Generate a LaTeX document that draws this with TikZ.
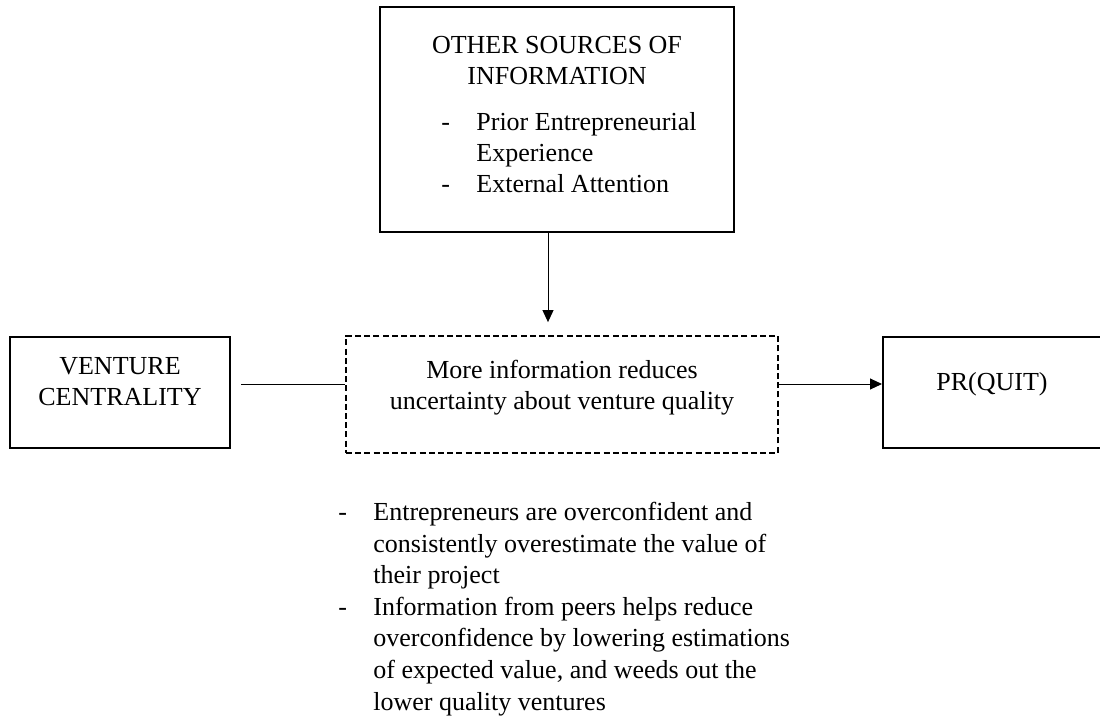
\documentclass[tikz,border=0pt]{standalone}
\usepackage{fontspec}
\setmainfont{Liberation Serif}
\usetikzlibrary{arrows.meta,positioning}
% extra depth under the last line, so the text sits a little above the box centre
\newcommand\lowerpad[1]{\rule[-#1]{0pt}{#1}}

\begin{document}
\begin{tikzpicture}[x=0.5pt,y=-0.5pt,>={Triangle[length=6pt,width=5.5pt]},
        font=\fontsize{13}{15.5}\selectfont,
        box/.style={draw,line width=1pt,inner sep=0pt,align=center},
        hyp/.style={draw,line width=0.9pt,dash pattern=on 3pt off 1.6pt,
                    inner sep=0pt,align=center},
        link/.style={line width=0.5pt}]
        \useasboundingbox (0,0) rectangle (1100,723);
        \node[box,minimum width=177pt,minimum height=112.5pt] (src) at (557,119.5)
            {OTHER SOURCES OF\\INFORMATION\\[7.5pt]
             \hspace*{12pt}\begin{tabular}[t]{@{}p{17.5pt}@{}l@{}}
               -&Prior Entrepreneurial\\&Experience\\-&External Attention\end{tabular}};
        \node[box,minimum width=110pt,minimum height=55.5pt] (vc) at (120,392.5)
            {VENTURE\\CENTRALITY\lowerpad{11pt}};
        \node[hyp,minimum width=216pt,minimum height=58.5pt] (info) at (562,394.5)
            {More information reduces\\uncertainty about venture quality\lowerpad{9.5pt}};
        \node[box,minimum width=109pt,minimum height=55.5pt] (quit) at (992,392.5)
            {PR(QUIT)\lowerpad{11pt}};
        \node[anchor=north west,inner sep=0pt,font=\fontsize{13}{15.8}\selectfont] (notes) at (338,498)
            {\begin{tabular}{@{}p{17.5pt}@{}l@{}}
               -&Entrepreneurs are overconfident and\\
                &consistently overestimate the value of\\
                &their project\\
               -&Information from peers helps reduce\\
                &overconfidence by lowering estimations\\
                &of expected value, and weeds out the\\
                &lower quality ventures\end{tabular}};
        \coordinate (lvl) at (0,384);
        \coordinate (drop) at (548,0);
        \draw[link,shorten <=5pt] (vc.east |- lvl) -- (info.west |- lvl);
        \draw[link,->] (info.east |- lvl) -- (quit.west |- lvl);
        \draw[link,->,shorten >=6.5pt] (src.south -| drop) -- (info.north -| drop);
      \end{tikzpicture}
\end{document}
